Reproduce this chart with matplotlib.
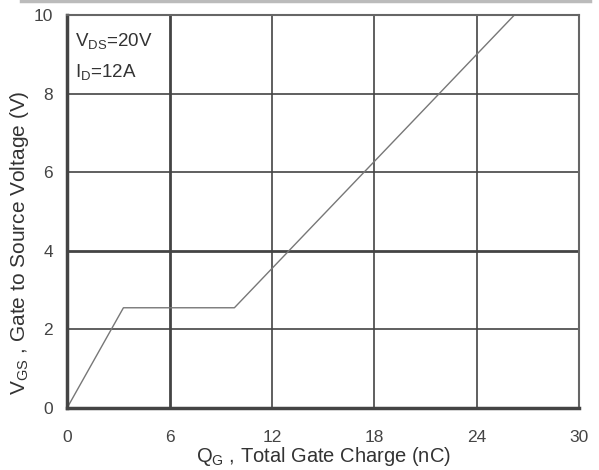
import matplotlib
matplotlib.use("Agg")
import matplotlib.pyplot as plt

plt.rcParams['font.family'] = ['Liberation Sans', 'DejaVu Sans']

# gate charge curve (corner points)
qg = [0.0, 3.3, 9.8, 26.2]
vgs = [0.0, 2.55, 2.55, 10.0]

x_ticks = [0, 6, 12, 18, 24, 30]
y_ticks = [0, 2, 4, 6, 8, 10]


def main():
    fig = plt.figure(figsize=(5.99, 4.70), dpi=100)
    ax = fig.add_axes([0.112, 0.132, 0.855, 0.836])

    # faint line along the top of the picture
    fig.add_artist(plt.Line2D([0.035, 0.985], [0.997, 0.997], color="#bbbbbb", lw=2.5))

    # grid
    for x in x_ticks[1:-1]:
        lw = 2.0 if x == 6 else 1.2
        ax.axvline(x, color="#444444", lw=lw, zorder=1)
    for y in y_ticks[1:-1]:
        lw = 2.0 if y == 4 else 1.2
        ax.axhline(y, color="#444444", lw=lw, zorder=1)

    ax.plot(qg, vgs, color="#777777", lw=1.0, zorder=2)

    ax.set_xlim(0, 30)
    ax.set_ylim(0, 10)
    ax.set_xticks(x_ticks)
    ax.set_yticks(y_ticks)
    ax.tick_params(length=0, labelsize=12.5, labelcolor="#444444")
    ax.tick_params(axis="x", pad=16)
    ax.tick_params(axis="y", pad=10)

    for side in ["left", "bottom"]:
        ax.spines[side].set_linewidth(2.5)
        ax.spines[side].set_color("#444444")
    for side in ["top", "right"]:
        ax.spines[side].set_linewidth(1.5)
        ax.spines[side].set_color("#666666")

    ax.text(0.45, 9.2, r"V$_{\mathregular{DS}}$=20V", fontsize=13.5, color="#333333")
    ax.text(0.45, 8.4, r"I$_{\mathregular{D}}$=12A", fontsize=13.5, color="#333333")

    ax.set_xlabel(r"Q$_{\mathregular{G}}$ , Total Gate Charge (nC)", fontsize=14.5,
                  color="#333333", labelpad=0)
    ax.set_ylabel(r"V$_{\mathregular{GS}}$ , Gate to Source Voltage (V)", fontsize=15,
                  color="#333333")
    ax.yaxis.set_label_coords(-0.07, 0.42)

    fig.savefig("out.png", dpi=100)


if __name__ == "__main__":
    main()
